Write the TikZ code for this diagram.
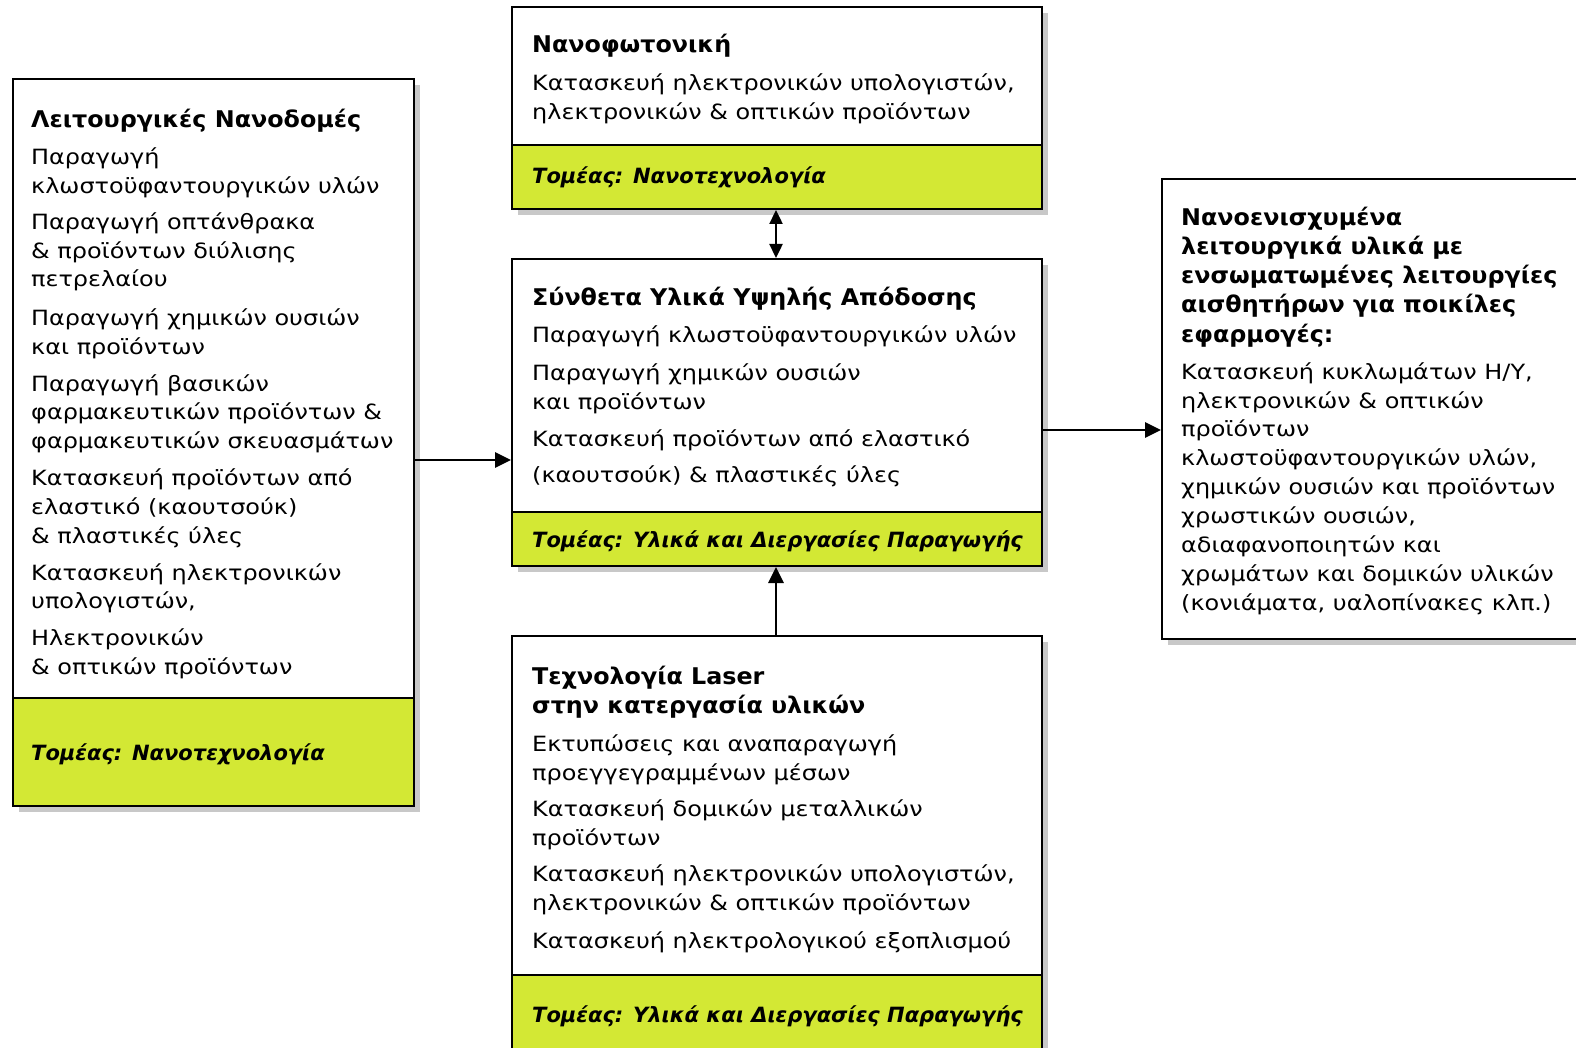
\documentclass[tikz,border=0pt]{standalone}
\usepackage{fontspec}
\setmainfont{DejaVu Sans}[UprightFeatures={FakeStretch=1.14},BoldFeatures={FakeStretch=1.035}]
\usetikzlibrary{arrows.meta,shadows}
\definecolor{lime}{RGB}{211,232,52}
\definecolor{shad}{RGB}{200,200,200}
\begin{document}
\begin{tikzpicture}[x=1pt,y=-1pt,
  box/.style={draw=black,line width=2pt,fill=white,anchor=north west,inner sep=0pt,
    drop shadow={shadow xshift=6pt,shadow yshift=-6pt,fill=shad,opacity=1}},
  band/.style={draw=black,line width=2pt,fill=lime,anchor=south west,inner sep=0pt},
  txt/.style={anchor=base west,inner sep=0pt,font=\fontsize{21}{29}\selectfont},
  ttl/.style={anchor=base west,inner sep=0pt,font=\fontsize{23}{29}\selectfont\bfseries},
  sect/.style={anchor=base west,inner sep=0pt,font=\fontsize{21}{29}\selectfont\bfseries\itshape},
  arr/.style={line width=2.8pt,-{Triangle[length=16pt,width=15pt]}},
  darr/.style={line width=2.4pt,{Triangle[length=14pt,width=13pt]}-{Triangle[length=14pt,width=13pt]}}]
\useasboundingbox (0,0) rectangle (1576,1048);
\clip (0,0) rectangle (1576,1048);
% boxes
\node[box,minimum width=401pt,minimum height=727pt] (L) at (12,78) {};
\node[band,minimum width=401pt,minimum height=108pt] (Lg) at (L.south west) {};
\node[box,minimum width=530pt,minimum height=202pt] (T) at (511,6) {};
\node[band,minimum width=530pt,minimum height=64pt] (Tg) at (T.south west) {};
\node[box,minimum width=530pt,minimum height=307pt] (M) at (511,258) {};
\node[band,minimum width=530pt,minimum height=54pt] (Mg) at (M.south west) {};
\node[box,minimum width=530pt,minimum height=440pt] (B) at (511,635) {};
\node[band,minimum width=530pt,minimum height=101pt] (Bg) at (B.south west) {};
\node[box,minimum width=440pt,minimum height=460pt] (R) at (1161,178) {};
% left texts
\node[ttl] (l0) at (31,128) {Λειτουργικές Νανοδομές};
\foreach \y/\t [count=\i] in {
  165/{Παραγωγή},
  194/{κλωστοϋφαντουργικών υλών},
  230/{Παραγωγή οπτάνθρακα},
  259/{\& προϊόντων διύλισης},
  287/{πετρελαίου},
  326/{Παραγωγή χημικών ουσιών},
  355/{και προϊόντων},
  391/{Παραγωγή βασικών},
  419/{φαρμακευτικών προϊόντων \&},
  448/{φαρμακευτικών σκευασμάτων},
  485/{Κατασκευή προϊόντων από},
  514/{ελαστικό (καουτσούκ)},
  543/{\& πλαστικές ύλες},
  580/{Κατασκευή ηλεκτρονικών},
  608/{υπολογιστών,},
  645/{Ηλεκτρονικών},
  674/{\& οπτικών προϊόντων}}
  \node[txt] (l\i) at (31,\y) {\t};
\node[sect] (ls) at (31,760) {Τομέας: Νανοτεχνολογία};
% top middle
\node[ttl] (t0) at (532,53) {Νανοφωτονική};
\node[txt] (t1) at (532,91) {Κατασκευή ηλεκτρονικών υπολογιστών,};
\node[txt] (t2) at (532,120) {ηλεκτρονικών \& οπτικών προϊόντων};
\node[sect] (ts) at (532,184) {Τομέας: Νανοτεχνολογία};
% middle
\node[ttl] (m0) at (532,306) {Σύνθετα Υλικά Υψηλής Απόδοσης};
\foreach \y/\t [count=\i] in {
  343/{Παραγωγή κλωστοϋφαντουργικών υλών},
  380/{Παραγωγή χημικών ουσιών},
  409/{και προϊόντων},
  446/{Κατασκευή προϊόντων από ελαστικό},
  482/{(καουτσούκ) \& πλαστικές ύλες}}
  \node[txt] (m\i) at (532,\y) {\t};
\node[sect] (ms) at (532,547) {Τομέας: Υλικά και Διεργασίες Παραγωγής};
% bottom
\node[ttl] (b0) at (532,684) {Τεχνολογία Laser};
\node[ttl] (b00) at (532,713) {στην κατεργασία υλικών};
\foreach \y/\t [count=\i] in {
  751/{Εκτυπώσεις και αναπαραγωγή},
  780/{προεγγεγραμμένων μέσων},
  816/{Κατασκευή δομικών μεταλλικών},
  845/{προϊόντων},
  881/{Κατασκευή ηλεκτρονικών υπολογιστών,},
  910/{ηλεκτρονικών \& οπτικών προϊόντων},
  948/{Κατασκευή ηλεκτρολογικού εξοπλισμού}}
  \node[txt] (b\i) at (532,\y) {\t};
\node[sect] (bs) at (532,1022) {Τομέας: Υλικά και Διεργασίες Παραγωγής};
% right
\foreach \y/\t [count=\i] in {
  226/{Νανοενισχυμένα},
  255/{λειτουργικά υλικά με},
  284/{ενσωματωμένες λειτουργίες},
  313/{αισθητήρων για ποικίλες},
  342/{εφαρμογές:}}
  \node[ttl] (rt\i) at (1181,\y) {\t};
\foreach \y/\t [count=\i] in {
  379/{Κατασκευή κυκλωμάτων Η/Υ,},
  408/{ηλεκτρονικών \& οπτικών},
  436/{προϊόντων},
  465/{κλωστοϋφαντουργικών υλών,},
  494/{χημικών ουσιών και προϊόντων},
  523/{χρωστικών ουσιών,},
  552/{αδιαφανοποιητών και},
  581/{χρωμάτων και δομικών υλικών},
  610/{(κονιάματα, υαλοπίνακες κλπ.)}}
  \node[txt] (r\i) at (1181,\y) {\t};
% connectors
\draw[arr] (L.east |- 0,460) -- (M.west |- 0,460);
\draw[arr] (M.east |- 0,430) -- (R.west |- 0,430);
\draw[arr] (B.north -| 776,0) -- (Mg.south -| 776,0);
\draw[darr] (Tg.south -| 776,0) -- (M.north -| 776,0);
\end{tikzpicture}
\end{document}
